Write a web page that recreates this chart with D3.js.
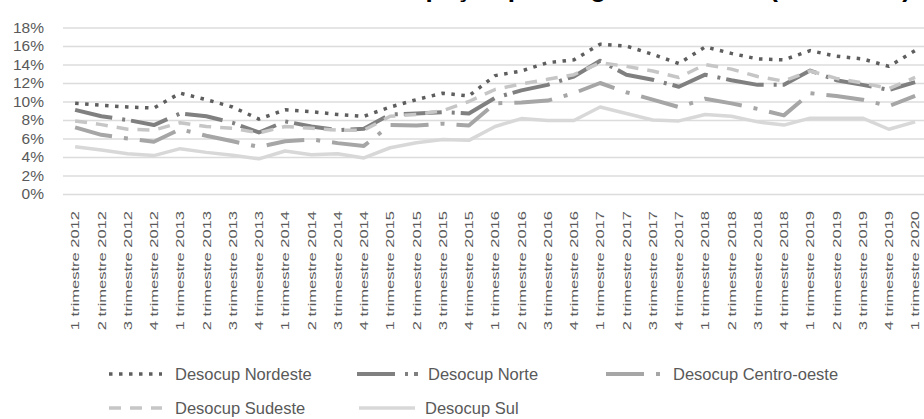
<!DOCTYPE html>
<html>
<head>
<meta charset="utf-8">
<script src="https://cdn.jsdelivr.net/npm/d3@7/dist/d3.min.js"></script>
<style>
  html, body { margin: 0; padding: 0; background: #fff; }
  svg { display: block; font-family: "Liberation Sans", Arial, sans-serif; }
</style>
</head>
<body>
<svg id="chart" width="924" height="419"></svg>
<script>
// Quarterly unemployment rate (%) by Brazilian region
const categories = [
  "1 trimestre 2012", "2 trimestre 2012", "3 trimestre 2012", "4 trimestre 2012",
  "1 trimestre 2013", "2 trimestre 2013", "3 trimestre 2013", "4 trimestre 2013",
  "1 trimestre 2014", "2 trimestre 2014", "3 trimestre 2014", "4 trimestre 2014",
  "1 trimestre 2015", "2 trimestre 2015", "3 trimestre 2015", "4 trimestre 2015",
  "1 trimestre 2016", "2 trimestre 2016", "3 trimestre 2016", "4 trimestre 2016",
  "1 trimestre 2017", "2 trimestre 2017", "3 trimestre 2017", "4 trimestre 2017",
  "1 trimestre 2018", "2 trimestre 2018", "3 trimestre 2018", "4 trimestre 2018",
  "1 trimestre 2019", "2 trimestre 2019", "3 trimestre 2019", "4 trimestre 2019",
  "1 trimestre 2020"
];

const nordeste = [9.8, 9.6, 9.4, 9.3, 10.9, 10.2, 9.4, 8.1, 9.1, 8.9, 8.6, 8.4,
  9.4, 10.2, 10.9, 10.6, 12.8, 13.3, 14.2, 14.5, 16.2, 16.0, 15.1, 14.1,
  15.9, 15.2, 14.6, 14.5, 15.5, 14.9, 14.6, 13.8, 15.5];

const norte = [9.1, 8.4, 8.0, 7.45, 8.7, 8.4, 7.7, 6.65, 7.85, 7.3, 6.9, 7.05,
  8.6, 8.7, 8.85, 8.7, 10.4, 11.2, 11.8, 12.7, 14.4, 12.9, 12.35, 11.6,
  12.9, 12.3, 11.8, 11.8, 13.35, 12.3, 11.8, 11.25, 12.1];

const centroOeste = [7.2, 6.4, 6.0, 5.65, 7.0, 6.3, 5.7, 5.1, 5.7, 5.9, 5.5, 5.2,
  7.45, 7.4, 7.6, 7.4, 9.8, 9.9, 10.1, 10.9, 12.0, 11.0, 10.2, 9.4,
  10.3, 9.8, 9.2, 8.5, 10.9, 10.6, 10.2, 9.5, 10.6];

const sudeste = [7.9, 7.5, 7.0, 6.9, 7.7, 7.3, 7.1, 6.6, 7.3, 7.1, 6.9, 6.9,
  8.4, 8.6, 9.0, 10.0, 11.3, 11.9, 12.4, 12.9, 14.2, 13.8, 13.3, 12.6,
  14.0, 13.5, 12.7, 12.2, 13.3, 12.5, 12.0, 11.4, 12.6];

const sul = [5.1, 4.75, 4.35, 4.15, 4.9, 4.5, 4.2, 3.8, 4.65, 4.25, 4.35, 3.9,
  5.0, 5.55, 5.9, 5.8, 7.3, 8.15, 7.95, 7.95, 9.4, 8.7, 8.0, 7.9,
  8.6, 8.4, 7.8, 7.45, 8.2, 8.2, 8.2, 7.0, 7.8];

const yTicks = [0, 2, 4, 6, 8, 10, 12, 14, 16, 18];

const seriesNames = ["Desocup Nordeste", "Desocup Norte", "Desocup Centro-oeste",
  "Desocup Sudeste", "Desocup Sul"];

const titleText = "Taxa de desocupação por Região do Brasil (2012-2020)";

// Line styles for each series
const styles = [
  { color: "#5e5e5e", width: 3.5, dash: "3.5 6.5" },
  { color: "#808080", width: 4,   dash: "38 10 3 6" },
  { color: "#a6a6a6", width: 4,   dash: "38 12 4 12" },
  { color: "#c6c6c6", width: 3.5, dash: "12 9" },
  { color: "#d8d8d8", width: 3.5, dash: null }
];

const seriesValues = [nordeste, norte, centroOeste, sudeste, sul];

const svg = d3.select("#chart");

const x = d3.scalePoint()
  .domain(categories)
  .range([62, 928.25])
  .padding(0.5);

const y = d3.scaleLinear()
  .domain([0, 18])
  .range([194, 27.5]);

// Title, sitting above the top edge so only its lowest strokes show
svg.append("text")
  .attr("x", 911)
  .attr("y", -3)
  .attr("text-anchor", "end")
  .attr("font-size", 26)
  .attr("font-weight", "bold")
  .attr("fill", "#000")
  .text(titleText);

// Horizontal gridlines and percentage labels
const yAxis = d3.axisLeft(y)
  .tickValues(yTicks)
  .tickSize(-(930 - 63))
  .tickPadding(18)
  .tickFormat(d => d + "%");

const gy = svg.append("g")
  .attr("transform", "translate(63,0)")
  .call(yAxis);
gy.select(".domain").remove();
gy.selectAll(".tick line")
  .attr("stroke", "#dcdcdc")
  .attr("stroke-width", 1.3);
gy.selectAll(".tick text")
  .attr("font-size", 15.5)
  .attr("fill", "#595959")
  .attr("x", -19);

// Category labels, rotated
const xAxis = d3.axisBottom(x).tickSize(0).tickPadding(0);
const gx = svg.append("g")
  .attr("transform", "translate(0,211)")
  .call(xAxis);
gx.select(".domain").remove();
gx.selectAll(".tick text")
  .attr("y", 0)
  .attr("dy", "0.35em")
  .attr("text-anchor", "end")
  .attr("transform", "rotate(-90) scale(1.5,1)")
  .attr("font-size", 11)
  .attr("fill", "#595959");

// Series lines
const line = d3.line()
  .x((d, i) => x(categories[i]))
  .y(d => y(d));

seriesValues.forEach((vals, k) => {
  const s = styles[k];
  svg.append("path")
    .datum(vals)
    .attr("d", line)
    .attr("fill", "none")
    .attr("stroke", s.color)
    .attr("stroke-width", s.width)
    .attr("stroke-linejoin", "round")
    .attr("stroke-dasharray", s.dash);
});

// Legend
const legendItems = [
  { x1: 109, x2: 162, tx: 175, cy: 374 },
  { x1: 357, x2: 418, tx: 428, cy: 374 },
  { x1: 606, x2: 664, tx: 673, cy: 374 },
  { x1: 109, x2: 162, tx: 175, cy: 408 },
  { x1: 359, x2: 415, tx: 425, cy: 408 }
];

const legend = svg.append("g");
legendItems.forEach((it, k) => {
  const s = styles[k];
  legend.append("line")
    .attr("x1", it.x1).attr("x2", it.x2)
    .attr("y1", it.cy).attr("y2", it.cy)
    .attr("stroke", s.color)
    .attr("stroke-width", s.width)
    .attr("stroke-dasharray", s.dash);
  legend.append("text")
    .attr("x", it.tx)
    .attr("y", it.cy)
    .attr("dy", "0.35em")
    .attr("font-size", 16.5)
    .attr("fill", "#595959")
    .text(seriesNames[k]);
});
</script>
</body>
</html>
